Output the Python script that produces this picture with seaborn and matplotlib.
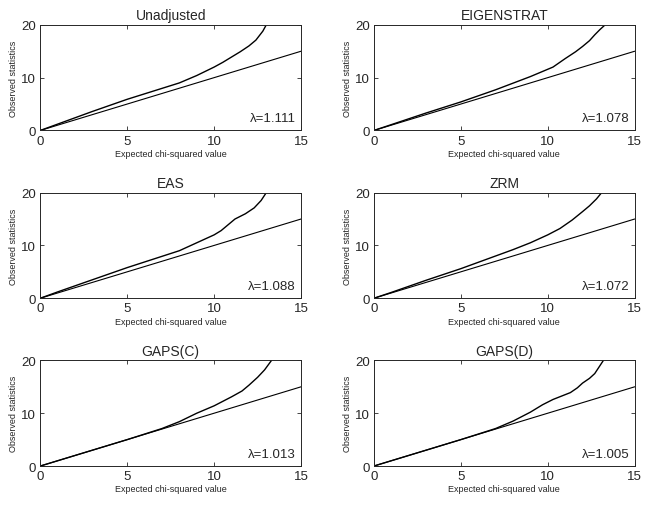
import numpy as np
import pandas as pd
import seaborn as sns
import matplotlib
matplotlib.use("Agg")
import matplotlib.pyplot as plt

sns.set_style("ticks")
plt.rcParams['font.family'] = ['Liberation Sans', 'DejaVu Sans']
plt.rcParams['xtick.direction'] = 'in'
plt.rcParams['ytick.direction'] = 'in'

# Panel titles and genomic-control lambdas
titles = ["Unadjusted", "EIGENSTRAT", "EAS", "ZRM", "GAPS(C)", "GAPS(D)"]
lambdas = ["1.111", "1.078", "1.088", "1.072", "1.013", "1.005"]

# QQ curves (expected, observed)
unadj_x = [0, 1, 2, 3, 5, 8, 9, 10, 10.5, 11, 11.5, 12.0, 12.4, 12.8, 13.0]
unadj_y = [0, 1.2, 2.4, 3.6, 5.9, 9.0, 10.4, 12.0, 12.9, 13.9, 14.9, 16.0, 17.1, 18.8, 20.0]
eigen_x = [0, 1, 3, 5, 7, 9, 10.3, 11, 11.6, 12, 12.4, 12.7, 13.0, 13.3]
eigen_y = [0, 1.1, 3.3, 5.4, 7.7, 10.2, 12.0, 13.6, 14.9, 15.9, 17.0, 18.1, 19.1, 20.0]
eas_x = [0, 1, 3, 5, 8, 9, 10, 10.4, 10.8, 11.2, 11.8, 12.3, 12.7, 13.0]
eas_y = [0, 1.2, 3.5, 5.8, 9.0, 10.5, 12.0, 12.8, 13.9, 15.0, 16.0, 17.1, 18.5, 20.0]
zrm_x = [0, 1, 3, 5, 8, 9, 10, 10.7, 11.4, 12, 12.4, 12.8, 13.1]
zrm_y = [0, 1.1, 3.4, 5.6, 9.2, 10.5, 12.0, 13.2, 14.8, 16.4, 17.5, 18.8, 20.0]
gapsc_x = [0, 3, 5, 7, 8, 9, 10, 11, 11.6, 12, 12.5, 12.9, 13.3]
gapsc_y = [0, 3.0, 5.0, 7.1, 8.4, 10.0, 11.4, 13.1, 14.2, 15.3, 16.8, 18.2, 20.0]
gapsd_x = [0, 3, 5, 7, 8, 9, 9.7, 10.3, 11.3, 11.7, 12, 12.4, 12.7, 13.0, 13.2]
gapsd_y = [0, 3.0, 5.0, 7.1, 8.5, 10.2, 11.6, 12.6, 13.9, 14.8, 15.7, 16.6, 17.5, 19.0, 20.0]

curves = [(unadj_x, unadj_y), (eigen_x, eigen_y), (eas_x, eas_y),
          (zrm_x, zrm_y), (gapsc_x, gapsc_y), (gapsd_x, gapsd_y)]

# Reference diagonal y = x
ref_x = [0, 15]

fig, axes = plt.subplots(3, 2, figsize=(6.49, 5.06), dpi=100)
fig.subplots_adjust(left=0.062, right=0.978, top=0.949, bottom=0.077,
                    wspace=0.279, hspace=0.588)

for ax, title, lam, (cx, cy) in zip(axes.flat, titles, lambdas, curves):
    df = pd.DataFrame({"expected": cx, "observed": cy})
    sns.lineplot(data=df, x="expected", y="observed", ax=ax, color="black",
                 linewidth=1.0, sort=False)
    sns.lineplot(x=ref_x, y=ref_x, ax=ax, color="black", linewidth=0.8)
    ax.set_xlim(0, 15)
    ax.set_ylim(0, 20)
    ax.set_xticks([0, 5, 10, 15])
    ax.set_yticks([0, 10, 20])
    ax.tick_params(top=True, right=True, labelsize=9.5, length=3, width=0.6)
    ax.tick_params(axis="x", pad=3)
    ax.tick_params(axis="y", pad=3)
    for s in ax.spines.values():
        s.set_linewidth(0.7)
    ax.set_title(title, fontsize=10, pad=4)
    ax.set_xlabel("Expected chi-squared value", fontsize=6.5, labelpad=1.5)
    ax.set_ylabel("Observed statistics", fontsize=6.5, labelpad=2)
    ax.text(14.7, 2.3, "\u03bb=" + lam, ha="right", va="center", fontsize=9.5)

fig.savefig("out.png", dpi=100)
